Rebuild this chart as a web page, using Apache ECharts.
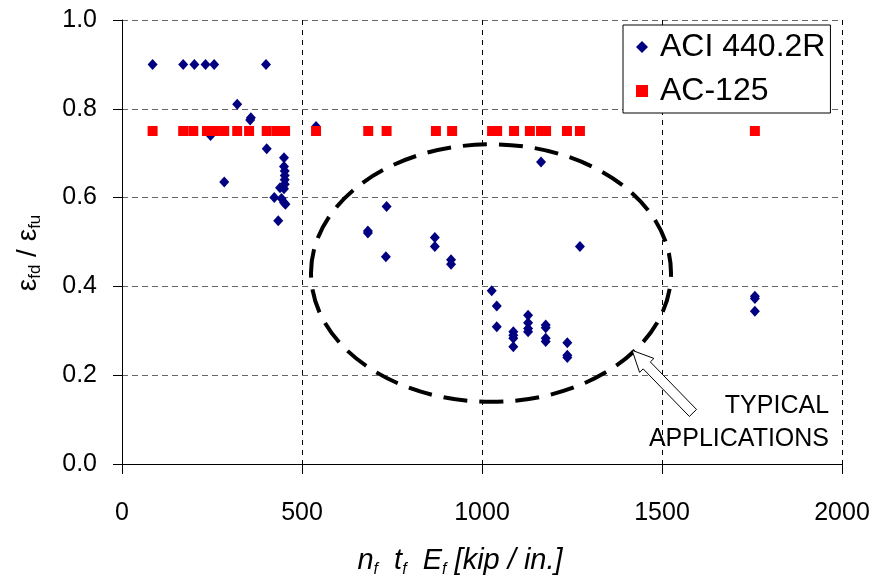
<!DOCTYPE html>
<html>
<head>
<meta charset="utf-8">
<script src="https://cdn.jsdelivr.net/npm/echarts@6/dist/echarts.min.js"></script>
<style>
html,body{margin:0;padding:0;background:#fff;}
#chart{width:878px;height:583px;}
</style>
</head>
<body>
<div id="chart"></div>
<script>
// ---- data ----
var aciX = [85,170,201,232,256,400,320,356,358,246,402,284,539,450,450,452,452,452,452,450,439,423,443,450,454,434,683,683,735,733,869,869,914,914,1272,1164,1027,1041,1041,1087,1087,1087,1087,1128,1128,1128,1128,1177,1177,1177,1177,1237,1237,1237,1758,1758,1758];
var aciY = [0.90,0.90,0.90,0.90,0.90,0.90,0.81,0.775,0.78,0.74,0.71,0.635,0.76,0.69,0.67,0.66,0.65,0.64,0.63,0.62,0.622,0.60,0.598,0.589,0.585,0.548,0.525,0.52,0.58,0.467,0.51,0.49,0.46,0.45,0.49,0.68,0.39,0.356,0.309,0.298,0.29,0.283,0.264,0.335,0.318,0.305,0.298,0.313,0.307,0.283,0.276,0.273,0.245,0.24,0.378,0.373,0.344];
var acX = [85,170,198,236,258,284,320,353,402,430,453,539,684,735,872,917,1028,1042,1089,1133,1164,1178,1236,1272,1758];
var acY = [0.75,0.75,0.75,0.75,0.75,0.75,0.75,0.75,0.75,0.75,0.75,0.75,0.75,0.75,0.75,0.75,0.75,0.75,0.75,0.75,0.75,0.75,0.75,0.75,0.75];
var seriesNames = ['ACI 440.2R', 'AC-125'];
var xTicks = {min: 0, max: 2000, interval: 500};
var yTicks = {min: 0, max: 1, interval: 0.2};
// annotation (data coordinates)
var ellipseCenter = [1025, 0.43];
var ellipseRadii = [500, 0.29];
var arrowTip = [1417, 0.256];
var arrowTail = [1586, 0.115];
var noteLines = ['TYPICAL', 'APPLICATIONS'];
var notePos = [[1964, 0.130], [1964, 0.056]];

function pairs(xs, ys){ return xs.map(function(x,i){ return [x, ys[i]]; }); }

var FONT = 'Liberation Sans, Arial, sans-serif';
var chart = echarts.init(document.getElementById('chart'), null, {renderer: 'canvas'});

var option = {
  backgroundColor: '#fff',
  animation: false,
  grid: {left: 122, right: 36, top: 20, bottom: 117, containLabel: false},
  legend: {
    data: [
      {name: seriesNames[0], icon: 'diamond', itemStyle: {color: '#000080', opacity: 1}},
      {name: seriesNames[1], icon: 'rect', itemStyle: {color: '#ff0000', opacity: 1}}
    ],
    orient: 'vertical',
    left: 623, top: 25,
    padding: [4, 5, 4, 13],
    itemGap: 8,
    itemWidth: 12, itemHeight: 12,
    backgroundColor: '#fff',
    borderColor: '#000', borderWidth: 1, borderRadius: 0,
    textStyle: {fontFamily: FONT, fontSize: 32, color: '#000', lineHeight: 36, padding: [0, 0, 0, 7]}
  },
  xAxis: {
    type: 'value',
    min: xTicks.min, max: xTicks.max, interval: xTicks.interval,
    axisLine: {show: true, onZero: false, lineStyle: {color: '#000', width: 1}},
    axisTick: {show: true, length: 10, lineStyle: {color: '#000'}},
    axisLabel: {fontFamily: FONT, fontSize: 25, color: '#000', margin: 37,
      formatter: function(v){ return String(v); }},
    splitLine: {show: true, lineStyle: {color: '#000', width: 1, type: [5, 5]}},
    name: '{i|n}{s|f}{i|  t}{s|f}{i|  E}{s|f}{i| [kip / in.]}',
    nameLocation: 'middle',
    nameGap: 80,
    nameTextStyle: {
      padding: [0, 44, 0, 0],
      rich: {
        i: {fontFamily: FONT, fontStyle: 'italic', fontSize: 29, color: '#000', lineHeight: 34},
        s: {fontFamily: FONT, fontStyle: 'italic', fontSize: 16, color: '#000', lineHeight: 16, verticalAlign: 'bottom'}
      }
    }
  },
  yAxis: {
    type: 'value',
    min: yTicks.min, max: yTicks.max, interval: yTicks.interval,
    axisLine: {show: true, onZero: false, lineStyle: {color: '#000', width: 1}},
    axisTick: {show: true, length: 9, lineStyle: {color: '#000'}},
    axisLabel: {fontFamily: FONT, fontSize: 25, color: '#000', margin: 25,
      formatter: function(v){ return v.toFixed(1); }},
    splitLine: {show: true, lineStyle: {color: '#666', width: 1, type: [6, 4]}},
    name: '{e|ε}{s|fd}{e| / ε}{s|fu}',
    nameLocation: 'middle',
    nameRotate: 90,
    nameGap: 78,
    nameTextStyle: {
      padding: [0, 22, 0, 0],
      rich: {
        e: {fontFamily: FONT, fontSize: 28, color: '#000', lineHeight: 32},
        s: {fontFamily: FONT, fontSize: 17, color: '#000', lineHeight: 17, verticalAlign: 'bottom'}
      }
    }
  },
  series: [
    {
      name: seriesNames[0], type: 'scatter',
      data: pairs(aciX, aciY),
      symbol: 'diamond', symbolSize: [10, 11],
      itemStyle: {color: '#000080', opacity: 1}, z: 3
    },
    {
      name: seriesNames[1], type: 'scatter',
      data: pairs(acX, acY),
      symbol: 'rect', symbolSize: [10, 10],
      itemStyle: {color: '#ff0000', opacity: 1}, z: 4
    },
    {
      name: 'annotation', type: 'custom', silent: true, z: 5,
      data: [[ellipseCenter[0], ellipseCenter[1]]],
      renderItem: function(params, api){
        var c = api.coord(ellipseCenter);
        var rx = api.size([ellipseRadii[0], 0])[0];
        var ry = api.size([0, ellipseRadii[1]])[1];
        var T = api.coord(arrowTip), E = api.coord(arrowTail);
        var dx = E[0]-T[0], dy = E[1]-T[1], L = Math.sqrt(dx*dx+dy*dy);
        var ux = dx/L, uy = dy/L, nx = -uy, ny = ux;
        var hl = 21, hh = 10, sh = 5;
        var B = [T[0]+ux*hl, T[1]+uy*hl];
        var pts = [
          T,
          [B[0]+nx*hh, B[1]+ny*hh],
          [B[0]+nx*sh, B[1]+ny*sh],
          [E[0]+nx*sh, E[1]+ny*sh],
          [E[0]-nx*sh, E[1]-ny*sh],
          [B[0]-nx*sh, B[1]-ny*sh],
          [B[0]-nx*hh, B[1]-ny*hh]
        ];
        var children = [
          {type: 'ellipse', shape: {cx: c[0], cy: c[1], rx: rx, ry: ry},
           style: {fill: null, stroke: '#000', lineWidth: 4, lineDash: [24, 12]}},
          {type: 'polygon', shape: {points: pts},
           style: {fill: '#fff', stroke: '#000', lineWidth: 1}}
        ];
        noteLines.forEach(function(t, i){
          var p = api.coord(notePos[i]);
          children.push({type: 'text', x: p[0], y: p[1],
            style: {text: t, fill: '#000', font: '25px ' + FONT, textAlign: 'right', textVerticalAlign: 'middle'}});
        });
        return {type: 'group', children: children};
      }
    }
  ]
};
chart.setOption(option);
</script>
</body>
</html>
